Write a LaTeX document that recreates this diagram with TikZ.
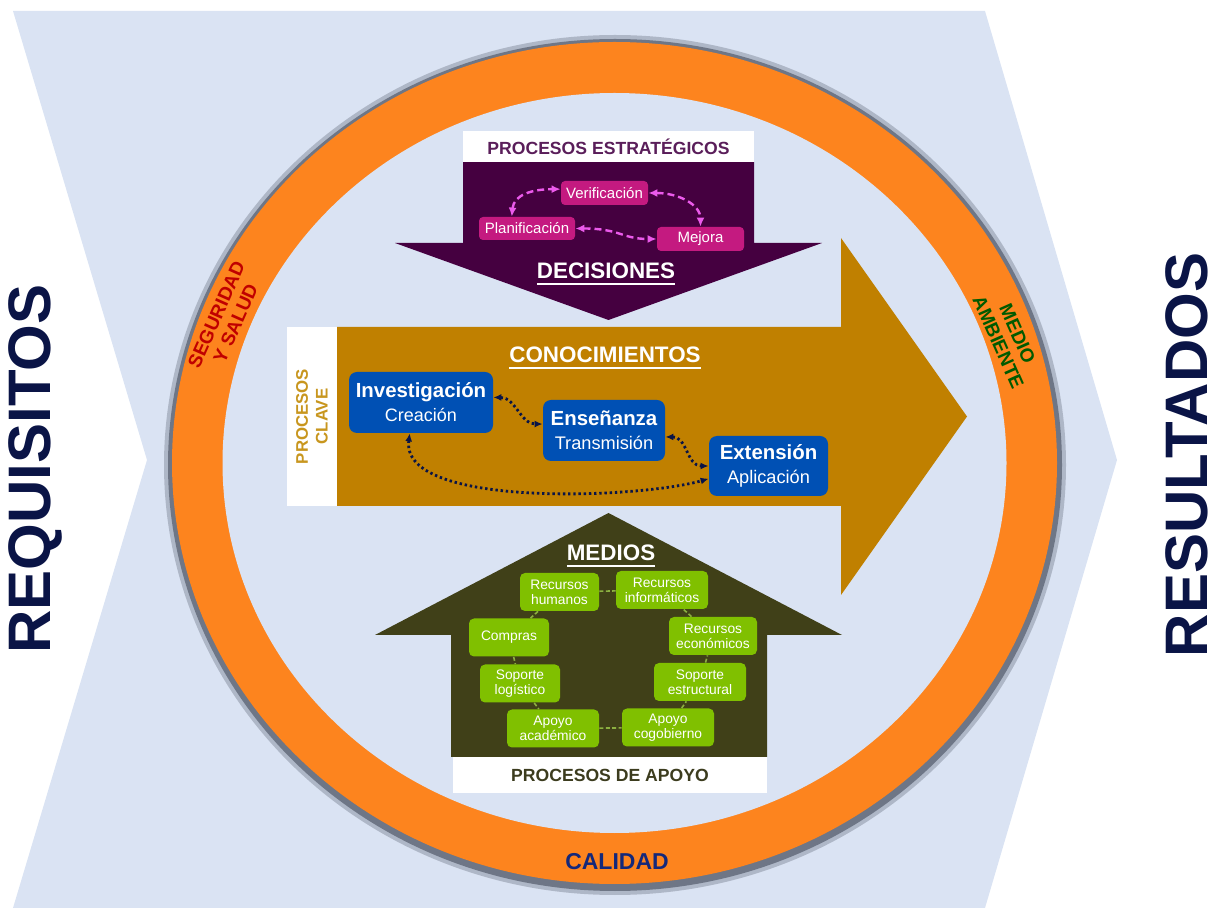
\documentclass[tikz,border=0pt]{standalone}
\usepackage{fontspec}
\setmainfont{Liberation Sans}
\usetikzlibrary{arrows.meta, positioning}
\usepackage{xcolor}

\definecolor{bgblue}{HTML}{DAE3F3}
\definecolor{ringorange}{HTML}{FD841E}
\definecolor{ringshade}{HTML}{6E7686}
\definecolor{stratpurple}{HTML}{450040}
\definecolor{stratpink}{HTML}{C41A80}
\definecolor{stratdash}{HTML}{EB5AEB}
\definecolor{stratlabel}{HTML}{5A1E5A}
\definecolor{keygold}{HTML}{C08000}
\definecolor{keylabel}{HTML}{C8961E}
\definecolor{keyblue}{HTML}{0050B4}
\definecolor{keydots}{HTML}{0A1446}
\definecolor{supolive}{HTML}{404018}
\definecolor{supgreen}{HTML}{80C000}
\definecolor{suplink}{HTML}{8CB040}
\definecolor{suplabel}{HTML}{3C3C1E}
\definecolor{sidenavy}{HTML}{0A1446}
\definecolor{safered}{HTML}{C00000}
\definecolor{envgreen}{HTML}{005A00}
\definecolor{qualnavy}{HTML}{14287A}

% underlined heading
\newcommand{\ulbar}[1]{\setbox0=\hbox{#1}\rlap{\rule[-3.2pt]{\wd0}{1pt}}\box0}

\begin{document}
\begin{tikzpicture}[
x=0.5pt, y=-0.5pt,
tag/.style={fill=white, inner sep=0pt, align=center,
font=\fontsize{8.8}{9.5}\selectfont\bfseries},
heading/.style={text=white, inner sep=0pt, anchor=base,
font=\fontsize{11.2}{12}\selectfont\bfseries},
stratbox/.style={fill=stratpink, rounded corners=2pt, text=white,
minimum width=43.5pt, minimum height=12pt, inner sep=0pt,
font=\fontsize{7.5}{8}\selectfont},
keybox/.style={fill=keyblue, rounded corners=4pt, text=white,
minimum height=30.5pt, inner sep=0pt, align=center,
font=\fontsize{10.2}{12}\selectfont\bfseries},
medbox/.style={fill=supgreen, rounded corners=2.5pt, text=white,
minimum width=46pt, minimum height=19pt, inner sep=0pt, align=center,
font=\fontsize{6.9}{7.6}\selectfont},
ringtext/.style={inner sep=0pt, align=center,
font=\fontsize{9.5}{10.5}\selectfont\bfseries},
sidetext/.style={text=sidenavy, inner sep=0pt, rotate=90,
font=\fontsize{30}{30}\selectfont\bfseries},
pinkarrow/.style={{Latex[length=4.5pt,width=4pt]}-{Latex[length=4.5pt,width=4pt]},
stratdash, line width=1.2pt, dash pattern=on 3.5pt off 2pt},
dotarrow/.style={{Latex[length=4pt,width=3.5pt]}-{Latex[length=4pt,width=3.5pt]},
keydots, line width=1.4pt, dash pattern=on 1.2pt off 1.4pt},
medlink/.style={suplink, line width=0.8pt, dash pattern=on 2pt off 1.2pt}
]
\useasboundingbox (0,0) rectangle (1216,908);

% background chevron and ring
\fill[bgblue] (13,11) -- (985,11) -- (1117,460) -- (985,908) -- (13,908) -- (147,460) -- cycle;
\fill[ringshade, opacity=0.4] (615,465) ellipse[x radius=225.5pt, y radius=215pt];
\fill[ringshade] (615,465) ellipse[x radius=223.5pt, y radius=213pt];
\fill[ringorange] (614.5,463) ellipse[x radius=221.25pt, y radius=210.5pt];
\fill[bgblue] (614.5,463) ellipse[x radius=196pt, y radius=185pt];

% big arrows
\fill[keygold] (337,327) -- (841,327) -- (841,238) -- (967,416.5) -- (841,595) -- (841,506) -- (337,506) -- cycle;
\fill[stratpurple] (463,162) -- (754,162) -- (754,243) -- (822,243) -- (608.5,320) -- (395,243) -- (463,243) -- cycle;
\fill[supolive] (451,635) -- (375,635) -- (608.5,513) -- (842,635) -- (767,635) -- (767,757) -- (451,757) -- cycle;

% labels of the three groups
\node[tag, text=stratlabel, minimum width=145.5pt, minimum height=15.5pt] (strattag) at (608.5,147) {PROCESOS ESTRATÉGICOS};
\node[tag, text=keylabel, rotate=90, minimum width=89.5pt, minimum height=25pt,
font=\fontsize{8.4}{9.8}\selectfont\bfseries] (clavetag) at (312,416.5) {PROCESOS\\CLAVE};
\node[tag, text=suplabel, minimum width=157pt, minimum height=18pt] (suptag) at (610,775) {PROCESOS DE APOYO};

\node[heading] (decis) at (606,279) {\ulbar{DECISIONES}};
\node[heading] (conoc) at (605,363) {\ulbar{CONOCIMIENTOS}};
\node[heading] (medios) at (611,561) {\ulbar{MEDIOS}};

% strategic processes
\node[stratbox] (verif) at (604.5,193) {Verificación};
\node[stratbox, minimum width=48pt, minimum height=11.5pt] (plan) at (527,228.5) {Planificación};
\node[stratbox] (mejora) at (700.5,239) {Mejora};

\draw[pinkarrow] (plan.142) .. controls +(2,-22) and +(-28,0) .. (verif.175);
\draw[pinkarrow] (verif.east) .. controls +(30,0) and +(0,-22) .. (mejora.north);
\draw[pinkarrow] (plan.east) .. controls +(45,0) and +(-35,0) .. (mejora.west);

% key processes
\node[keybox, minimum width=72pt] (inv) at (421,402.5) {Investigación\\{\fontsize{9}{12}\selectfont\mdseries Creación}};
\node[keybox, minimum width=61pt] (ens) at (604,430.5) {Enseñanza\\{\fontsize{9.1}{12}\selectfont\mdseries Transmisión}};
\node[keybox, minimum width=59.5pt, minimum height=30pt] (ext) at (768.5,466) {Extensión\\{\fontsize{9.1}{12}\selectfont\mdseries Aplicación}};

\draw[dotarrow] (inv.4) .. controls +(22,0) and +(-22,0) .. (ens.174);
\draw[dotarrow] (ens.-6) .. controls +(22,0) and +(-22,0) .. (ext.west);
\draw[dotarrow] (inv.250) .. controls +(-10,75) and +(-70,20) .. (ext.192);

% support processes
\node[medbox, minimum width=39.5pt] (hum) at (559.5,592) {Recursos\\humanos};
\node[medbox] (inf) at (662,590) {Recursos\\informáticos};
\node[medbox, minimum width=40pt] (comp) at (509,637.5) {Compras};
\node[medbox, minimum width=44pt] (eco) at (713,636) {Recursos\\económicos};
\node[medbox, minimum width=40pt] (logi) at (520,683.5) {Soporte\\logístico};
\node[medbox] (estr) at (700,682) {Soporte\\estructural};
\node[medbox] (acad) at (553,728.5) {Apoyo\\académico};
\node[medbox] (cogo) at (668,727.5) {Apoyo\\cogobierno};

\draw[medlink] (hum) -- (inf);
\draw[medlink] (hum) -- (comp);
\draw[medlink] (comp) -- (logi);
\draw[medlink] (logi) -- (acad);
\draw[medlink] (acad) -- (cogo);
\draw[medlink] (cogo) -- (estr);
\draw[medlink] (estr) -- (eco);
\draw[medlink] (eco) -- (inf);

% ring and side labels
\node[ringtext, text=safered, rotate=66] (safety) at (226,319) {SEGURIDAD\\Y SALUD};
\node[ringtext, text=envgreen, rotate=-66] (environ) at (1008,338) {MEDIO\\AMBIENTE};
\node[ringtext, text=qualnavy, font=\fontsize{11.5}{12}\selectfont\bfseries] (quality) at (617,862) {CALIDAD};

\node[sidetext] (inputs) at (35,469) {REQUISITOS};
\node[sidetext] (outputs) at (1187,455) {RESULTADOS};

\end{tikzpicture}
\end{document}
